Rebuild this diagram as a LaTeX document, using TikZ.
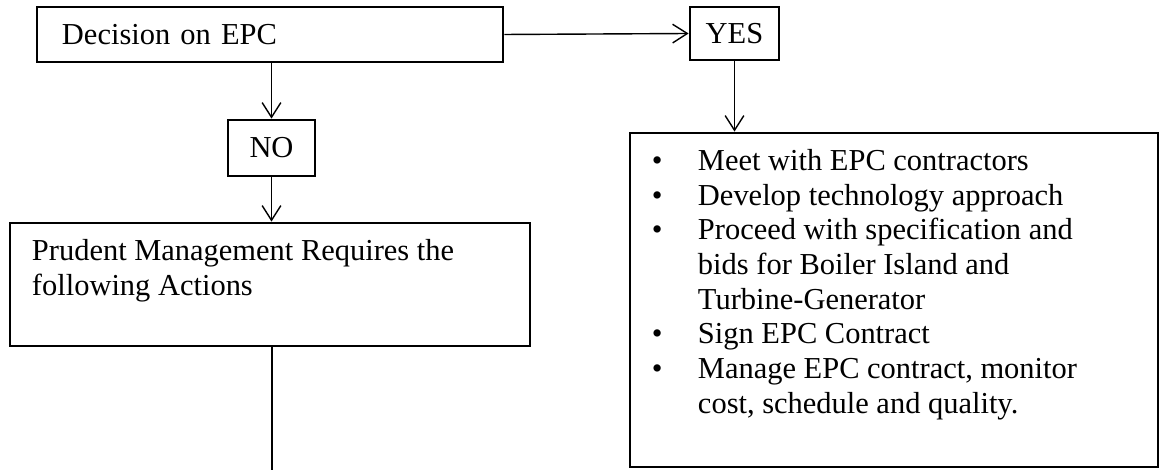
\documentclass[tikz,border=0pt]{standalone}
\usepackage{fontspec}
\setmainfont{Liberation Serif}
\usetikzlibrary{arrows.meta}

\tikzset{
  box/.style={draw, rectangle, line width=1.2pt, inner ysep=0pt},
  link/.style={line width=0.6pt}
}
\newcommand{\actbul}{\makebox[0.69cm][l]{\textbullet}}
\newcommand{\actind}{\hspace*{0.69cm}}

\begin{document}
\begin{tikzpicture}[x=0.015cm, y=-0.015cm, >={Straight Barb[length=2.2mm,width=2.8mm]}, font=\fontsize{13}{14.8}\selectfont]

	\useasboundingbox (0,0) rectangle (1160,470);

	\node[box, minimum height=0.825cm, minimum width=6.99cm, inner xsep=0.375cm, text width=6.24cm, align=left] (Decision) at (270,34.5) {Decision on EPC};
	\node[box, minimum height=0.795cm, minimum width=1.335cm] (Yes) at (734.5,33.5) {YES};
	\node[box, minimum height=0.84cm, minimum width=1.305cm] (No) at (271.5,148) {NO};
	\node[box, minimum height=1.845cm, minimum width=7.8cm, inner xsep=0.33cm, inner ysep=0.2cm] (Prudent) at (270,284.5)
		{\parbox[c][1.445cm][t]{7.14cm}{\strut Prudent Management Requires the\\ following Actions}};
	\node[box, minimum height=5.01cm, minimum width=7.92cm, inner xsep=0.33cm, inner ysep=0.2cm] (Actions) at (894,300)
		{\parbox[c][4.61cm][t]{7.26cm}{\strut\actbul Meet with EPC contractors\\
			\actbul Develop technology approach\\
			\actbul Proceed with specification and\\
			\actind bids for Boiler Island and\\
			\actind Turbine-Generator\\
			\actbul Sign EPC Contract\\
			\actbul Manage EPC contract, monitor\\
			\actind cost, schedule and quality.}};

	\coordinate (End) at (272,470);

	\draw[link,->] (Decision.east) -- (Yes.west);
	\draw[link,->] (Decision.south -| No.north) -- (No.north);
	\draw[link,->] (No.south) -- (No.south |- Prudent.north);
	\draw[link,->] (Yes.south) -- (Yes.south |- Actions.north);
	\draw[link] (Prudent.south -| End) -- (End);

\end{tikzpicture}
\end{document}
